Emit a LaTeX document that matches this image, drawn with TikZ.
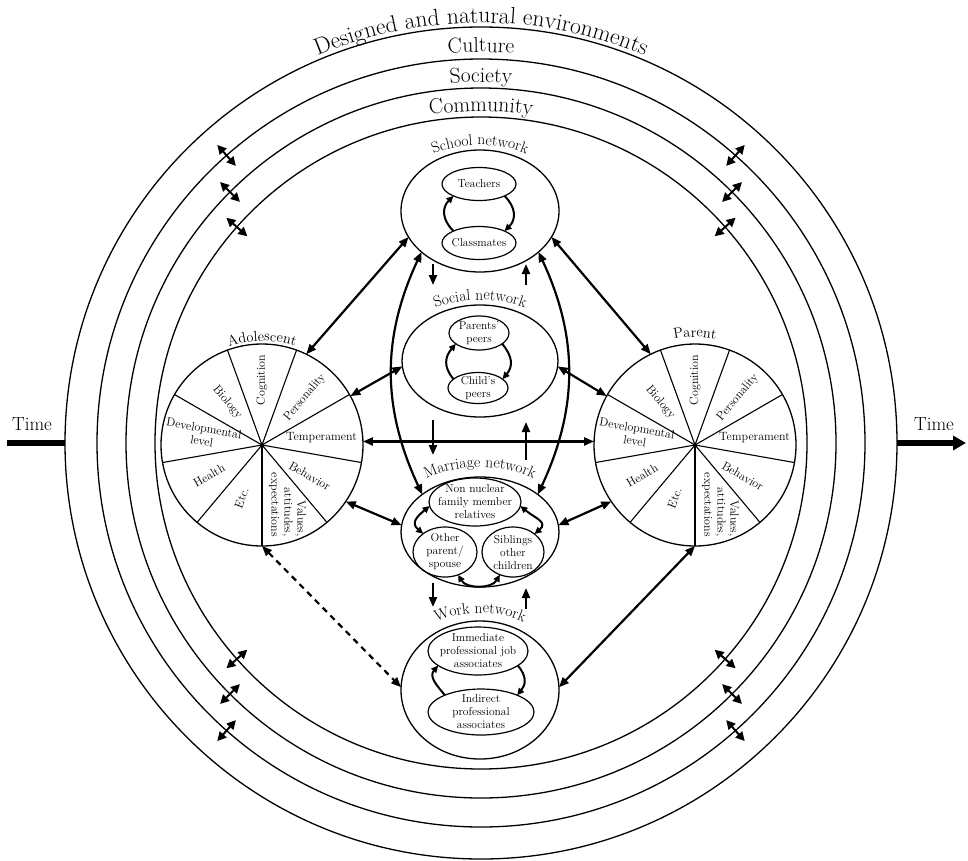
\documentclass[tikz,border=0pt]{standalone}
\usepackage{fontspec}
\usetikzlibrary{arrows.meta,shapes.geometric,decorations.text}
\newcommand\ringfont{\fontsize{21.5}{24}\selectfont}
\newcommand\bigringfont{\fontsize{23.5}{26}\selectfont}
\newcommand\netfont{\fontsize{15.5}{18}\selectfont}
\newcommand\headfont{\fontsize{14.5}{17}\selectfont}
\newcommand\piefont{\fontsize{12}{13}\selectfont}
\newcommand\innerfont{\fontsize{11.5}{13}\selectfont}
\newcommand\timefont{\fontsize{19}{22}\selectfont}
\tikzset{
  ring/.style={circle, draw, line width=1.3pt, inner sep=0pt, outer sep=0pt},
  pie/.style={circle, draw, line width=1.3pt, minimum size=202pt, inner sep=0pt, outer sep=0pt},
  spoke/.style={line width=1.1pt},
  pielab/.style={font=\piefont, align=center, inner sep=0pt},
  net/.style={ellipse, draw, line width=1.3pt, inner sep=0pt, outer sep=0pt},
  smell/.style={ellipse, draw, line width=1.2pt, inner sep=0pt, outer sep=0pt},
  intext/.style={font=\innerfont, align=center, inner sep=0pt},
  conn/.style={line width=2.2pt, {Triangle[length=10pt,width=8pt]}-{Triangle[length=10pt,width=8pt]}},
  vconn/.style={line width=2.2pt, -{Triangle[length=10pt,width=8pt]}},
  inarr/.style={line width=2pt, -{Triangle[length=7pt,width=6.5pt]}},
  indbl/.style={line width=2pt, {Triangle[length=7pt,width=6.5pt]}-{Triangle[length=7pt,width=6.5pt]}},
  ringarr/.style={line width=2pt, {Triangle[length=9pt,width=9pt]}-{Triangle[length=9pt,width=9pt]}},
  timeline/.style={line width=5.5pt},
  arctext/.style 2 args={decorate, decoration={text along path, text={|#1|#2}, text align=center}},
}
\newcommand\drawpie[3]{%
  \node[pie] (#1) at (#2,#3) {};
  \foreach \a in {110,70,30,-10,-50,-90,-130,-170,150} \draw[spoke] (#1.center) -- (#1.\a);
  \fill (#1.center) circle[radius=2pt];
  \node[pielab, rotate=90] (#1-cog) at ([shift={(90:65pt)}]#1.center) {Cognition};
  \node[pielab, rotate=50] (#1-per) at ([shift={(48:64pt)}]#1.center) {Personality};
  \node[pielab] (#1-tem) at ([shift={(7:60pt)}]#1.center) {Temperament};
  \node[pielab, rotate=-30] (#1-beh) at ([shift={(-33:57pt)}]#1.center) {Behavior};
  \node[pielab, rotate=-90, align=right] (#1-val) at ([shift={(-67:65pt)}]#1.center) {Values,\\attitudes,\\expectations};
  \node[pielab, rotate=70] (#1-etc) at ([shift={(-111:57pt)}]#1.center) {Etc.};
  \node[pielab, rotate=30] (#1-hea) at ([shift={(-150:61pt)}]#1.center) {Health};
  \node[pielab, rotate=-10] (#1-dev) at ([shift={(170:60pt)}]#1.center) {Developmental\\level};
  \node[pielab, rotate=-50] (#1-bio) at ([shift={(129:55pt)}]#1.center) {Biology};
}
\begin{document}
\begin{tikzpicture}[x=1pt, y=-1pt]
\useasboundingbox (0,0) rectangle (968,860);

% environment rings
\node[ring, minimum size=832pt] (ring1) at (481,443) {};
\node[ring, minimum size=768pt] (ring2) at (481,443) {};
\node[ring, minimum size=710pt] (ring3) at (481,443) {};
\node[ring, minimum size=652pt] (ring4) at (481,443) {};

\path[shift={(ring1.center)}, arctext={\bigringfont}{Designed and natural environments}] (150:420pt) arc[start angle=150, end angle=30, radius=420pt];
\path[shift={(ring1.center)}, arctext={\ringfont}{Culture}] (120:391pt) arc[start angle=120, end angle=60, radius=391pt];
\path[shift={(ring1.center)}, arctext={\ringfont}{Society}] (120:361pt) arc[start angle=120, end angle=60, radius=361pt];
\path[shift={(ring1.center)}, arctext={\ringfont}{Community}] (120:332pt) arc[start angle=120, end angle=60, radius=332pt];

% ring double arrows
\foreach \r/\b [count=\i] in {326/41.5,355/45,384/48.5}{
  \pgfmathsetmacro\ri{\r-14}
  \pgfmathsetmacro\ro{\r+14}
  \foreach \q [count=\j] in {\b,180-\b,180+\b,360-\b}{
    \pgfmathsetmacro\qq{\q}
    \coordinate (ra\i\j) at ([shift={(\qq:\ri pt)}]ring4.center);
    \coordinate (rb\i\j) at ([shift={(\qq:\ro pt)}]ring4.center);
    \draw[ringarr] (ra\i\j) -- (rb\i\j);
  }
}

% time
\node[font=\timefont, anchor=base, inner sep=0pt] (timeL) at (32,430) {Time};
\node[font=\timefont, anchor=base, inner sep=0pt] (timeR) at (934,430) {Time};
\coordinate (tL) at (7,443);
\coordinate (tR) at (966,443);
\draw[timeline] (tL) -- (ring1.west);
\draw[timeline, -{Triangle[length=13pt,width=14pt]}] (ring1.east) -- (tR);

% networks
\node[net, minimum width=158pt, minimum height=122pt] (school) at (480,211) {};
\node[net, minimum width=156pt, minimum height=112pt] (social) at (480,361) {};
\node[net, minimum width=158pt, minimum height=110pt] (marriage) at (480,532) {};
\node[net, minimum width=158pt, minimum height=138pt] (work) at (480,690) {};

\path[shift={(school.center)}, arctext={\netfont}{School network}] (160:93pt and 66pt) arc[start angle=160, end angle=20, x radius=93pt, y radius=66pt];
\path[shift={(social.center)}, arctext={\netfont}{Social network}] (160:92pt and 61pt) arc[start angle=160, end angle=20, x radius=92pt, y radius=61pt];
\path[shift={(marriage.center)}, arctext={\netfont}{Marriage network}] (160:93pt and 65pt) arc[start angle=160, end angle=20, x radius=93pt, y radius=65pt];
\path[shift={(work.center)}, arctext={\netfont}{Work network}] (160:93pt and 77pt) arc[start angle=160, end angle=20, x radius=93pt, y radius=77pt];

% school inner
\node[smell, minimum width=74pt, minimum height=33pt] (teach) at (479,184) {};
\node[intext] (teachT) at (teach) {Teachers};
\node[smell, minimum width=74pt, minimum height=33pt] (class) at (479,243) {};
\node[intext] (classT) at (class) {Classmates};
\draw[inarr] (class.155) to[out=135, in=225, looseness=1.2] (teach.205);
\draw[inarr] (teach.-25) to[out=-45, in=45, looseness=1.2] (class.25);

% social inner
\node[smell, minimum width=60pt, minimum height=34pt] (ppeer) at (479,333) {};
\node[intext] (ppeerT) at (ppeer) {Parents'\\peers};
\node[smell, minimum width=60pt, minimum height=31pt] (cpeer) at (478,388) {};
\node[intext] (cpeerT) at (cpeer) {Child's\\peers};
\draw[inarr] (cpeer.160) to[out=130, in=230, looseness=1.2] (ppeer.205);
\draw[inarr] (ppeer.-25) to[out=-50, in=50, looseness=1.2] (cpeer.20);

% marriage inner
\node[smell, minimum width=92pt, minimum height=48pt] (nn) at (475,502) {};
\node[intext] (nnT) at (nn) {Non nuclear\\family member\\relatives};
\node[smell, minimum width=64pt, minimum height=50pt] (op) at (445,552) {};
\node[intext] (opT) at (op) {Other\\parent/\\spouse};
\node[smell, minimum width=62pt, minimum height=50pt] (sib) at (513,552) {};
\node[intext] (sibT) at (sib) {Siblings\\other\\children};
\draw[indbl] (nn.185) to[out=220, in=140, looseness=1.5] (op.140);
\draw[indbl] (nn.-5) to[out=-40, in=40, looseness=1.5] (sib.40);
\draw[indbl] (op.-60) to[out=-60, in=240] (sib.240);

% work inner
\node[smell, minimum width=100pt, minimum height=48pt] (imm) at (478,651) {};
\node[intext] (immT) at (imm) {Immediate\\professional job\\associates};
\node[smell, minimum width=106pt, minimum height=46pt] (ind) at (481,712) {};
\node[intext] (indT) at (ind) {Indirect\\professional\\associates};
\draw[inarr] (ind.155) to[out=130, in=230, looseness=1.2] (imm.200);
\draw[inarr] (imm.-20) to[out=-50, in=50, looseness=1.2] (ind.25);

% pies
\drawpie{ado}{262}{445}
\drawpie{par}{695}{445}
\path[shift={(ado.center)}, arctext={\headfont}{Adolescent}] (130:104pt) arc[start angle=130, end angle=50, radius=104pt];
\path[shift={(par.center)}, arctext={\headfont}{Parent}] (130:108pt) arc[start angle=130, end angle=50, radius=108pt];

% vertical short arrows
\coordinate (v1a) at (433,264); \coordinate (v1b) at (433,285);
\coordinate (v2a) at (526,285); \coordinate (v2b) at (526,264);
\coordinate (v3a) at (433,420); \coordinate (v3b) at (433,455);
\coordinate (v4a) at (526,460); \coordinate (v4b) at (526,422);
\coordinate (v5a) at (433,583); \coordinate (v5b) at (433,607);
\coordinate (v6a) at (526,609); \coordinate (v6b) at (526,588);
\draw[vconn] (v1a) -- (v1b);
\draw[vconn] (v2a) -- (v2b);
\draw[vconn] (v3a) -- (v3b);
\draw[vconn] (v4a) -- (v4b);
\draw[vconn] (v5a) -- (v5b);
\draw[vconn] (v6a) -- (v6b);

% main connectors
\draw[conn] (ado.64) -- (school.200);
\draw[conn] (par.116) -- (school.-20);
\draw[conn] (ado.29) -- (social.184);
\draw[conn] (par.151) -- (social.-4);
\draw[conn] (ado.2) -- (par.178);
\draw[conn] (ado.-34) -- (marriage.175);
\draw[conn] (par.214) -- (marriage.5);
\draw[conn, dash pattern=on 6pt off 5pt] (ado.-90) -- (work.178);
\draw[conn] (par.-90) -- (work.2);
\draw[conn] (school.215) to[out=245, in=115] (marriage.147);
\draw[conn] (school.-35) to[out=-65, in=65] (marriage.33);
\end{tikzpicture}
\end{document}
